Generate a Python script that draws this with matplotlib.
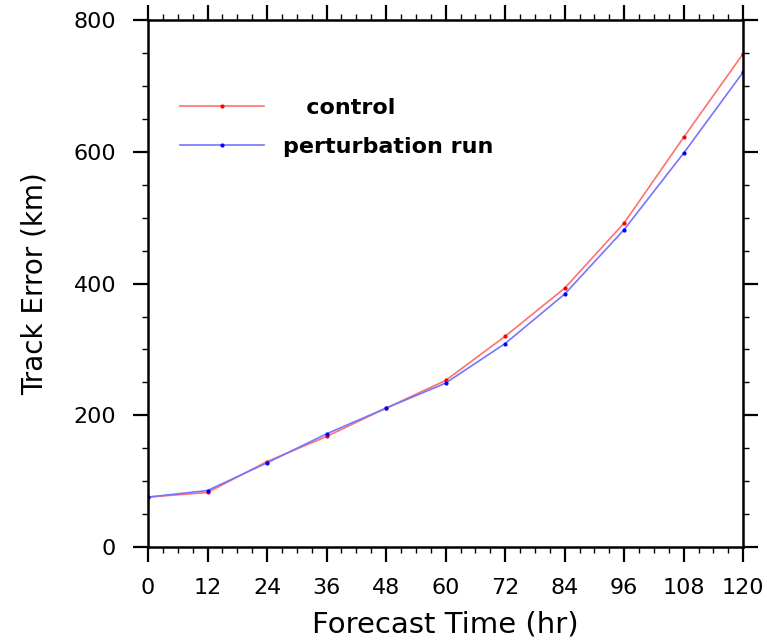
import matplotlib
matplotlib.use("Agg")
import matplotlib.pyplot as plt
from matplotlib.ticker import MultipleLocator

plt.rcParams['font.family'] = ['DejaVu Sans']

# Forecast lead times (hr) and mean track errors (km)
forecast_hr = [0, 12, 24, 36, 48, 60, 72, 84, 96, 108, 120]
control_err = [76, 83, 130, 168, 211, 253, 320, 393, 492, 622, 749]
perturb_err = [76, 86, 128, 172, 211, 249, 309, 384, 482, 598, 721]
series_labels = ["control", "perturbation run"]
x_ticks = [0, 12, 24, 36, 48, 60, 72, 84, 96, 108, 120]
y_ticks = [0, 200, 400, 600, 800]

fig = plt.figure(figsize=(7.67, 6.43), dpi=100)
ax = fig.add_axes([0.193, 0.149, 0.776, 0.820])

ax.plot(forecast_hr, control_err, color="#ff7070", lw=1.2,
        marker="o", ms=2.0, mfc="#ff0000", mec="#ff0000",
        label=series_labels[0])
ax.plot(forecast_hr, perturb_err, color="#7575ff", lw=1.2,
        marker="o", ms=2.0, mfc="#0000ff", mec="#0000ff",
        label=series_labels[1])

ax.set_xlim(0, 120)
ax.set_ylim(0, 800)
ax.set_xticks(x_ticks)
ax.set_yticks(y_ticks)
ax.xaxis.set_minor_locator(MultipleLocator(3))
ax.yaxis.set_minor_locator(MultipleLocator(50))

ax.tick_params(which="both", direction="out", top=True, right=True,
               labeltop=False, labelright=False, colors="black")
ax.tick_params(which="major", length=11, width=1.6, labelsize=16)
ax.tick_params(which="minor", length=4.5, width=1.0)
ax.tick_params(axis="x", which="major", pad=11)
ax.tick_params(axis="y", which="major", pad=12)
for sp in ax.spines.values():
    sp.set_linewidth(1.8)

ax.set_xlabel("Forecast Time (hr)", fontsize=21, labelpad=9)
ax.set_ylabel("Track Error (km)", fontsize=20, labelpad=18)

leg = ax.legend(loc="upper left", bbox_to_anchor=(0.02, 0.89),
                frameon=False, handlelength=3.8, handletextpad=0.85,
                labelspacing=0.85, prop={"size": 16, "weight": "bold"})
# centre the shorter label over the longer one
texts = leg.get_texts()
texts[0].set_text("   control")

fig.savefig("out.png", dpi=100)
